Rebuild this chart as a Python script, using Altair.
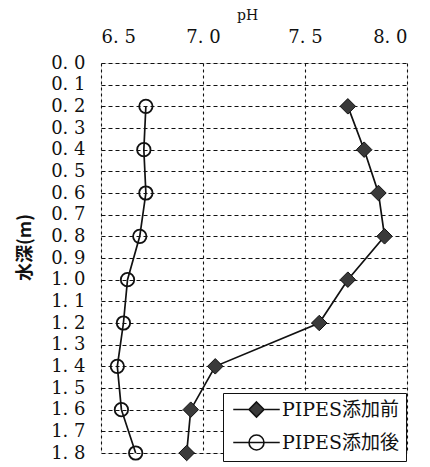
import altair as alt
import pandas as pd

depth = [0.2, 0.4, 0.6, 0.8, 1.0, 1.2, 1.4, 1.6, 1.8]
ph_before = [7.71, 7.79, 7.86, 7.89, 7.71, 7.57, 7.06, 6.94, 6.92]
ph_after = [6.72, 6.71, 6.72, 6.69, 6.63, 6.61, 6.58, 6.60, 6.67]
series_names = ["PIPES添加前", "PIPES添加後"]
x_ticks = [6.5, 7.0, 7.5, 8.0]
y_ticks = [round(i * 0.1, 1) for i in range(19)]

rows = []
for d, b, a in zip(depth, ph_before, ph_after):
    rows.append({"depth": d, "pH": b, "series": series_names[0]})
    rows.append({"depth": d, "pH": a, "series": series_names[1]})
df = pd.DataFrame(rows)

SERIF = "DejaVu Serif, Noto Sans CJK JP"
CJK = "Noto Sans CJK JP"

x_enc = alt.X(
    "pH:Q",
    scale=alt.Scale(domain=[6.5, 8.0], nice=False, zero=False),
    axis=alt.Axis(
        orient="top", values=x_ticks, title="pH",
        labelExpr="replace(format(datum.value, '.1f'), '.', '. ')",
        labelFont=SERIF, labelFontSize=18, labelColor="#111", labelPadding=17,
        ticks=False, domain=False,
        grid=True, gridColor="#111", gridDash=[3, 3], gridWidth=1.1,
        titleFont=SERIF, titleFontSize=14, titleFontWeight="normal", titleColor="#111",
        titleX=146, titleY=-48, titleBaseline="middle", titleAlign="center",
    ),
)
y_enc = alt.Y(
    "depth:Q",
    scale=alt.Scale(domain=[0, 1.8], reverse=True, nice=False, zero=False),
    axis=alt.Axis(
        values=y_ticks, title="水深(m)",
        labelExpr="replace(format(datum.value, '.1f'), '.', '. ')",
        labelFont=SERIF, labelFontSize=18, labelColor="#111", labelPadding=16,
        ticks=False, domain=False,
        grid=True, gridColor="#111", gridDash=[4, 3], gridWidth=1.1,
        titleFont=CJK, titleFontSize=18, titleFontWeight="bold", titleColor="#111",
        titleX=-76, titleY=184, titleAngle=270, titleBaseline="middle", titleAlign="center",
    ),
)

base = alt.Chart(df)

lines = base.mark_line(color="#111", strokeWidth=1.7).encode(
    x=x_enc, y=y_enc, detail="series:N", order="depth:Q"
)

diamonds = base.transform_filter(alt.datum.series == series_names[0]).mark_point(
    shape="diamond", filled=True, fill="#3a3a3a", stroke="#111", strokeWidth=1,
    size=240, opacity=1
).encode(x=x_enc, y=y_enc)

circles = base.transform_filter(alt.datum.series == series_names[1]).mark_point(
    shape="circle", filled=False, stroke="#111", strokeWidth=1.8, size=180, opacity=1
).encode(x=x_enc, y=y_enc)

path_before = "M-3.1,0L-1,0M1,0L3.1,0M0,-1L1,0L0,1L-1,0Z"
path_after = "M-3.1,0L3.1,0M1,0A1,1 0 1,1 -1,0A1,1 0 1,1 1,0Z"

legend_cfg = dict(
    title=None, orient="none", legendX=122, legendY=330,
    fillColor="white", strokeColor="#111", padding=7, rowPadding=10,
    symbolSize=225, symbolStrokeColor="#111", symbolStrokeWidth=1.6,
    symbolOffset=17, labelOffset=16,
    labelFont=SERIF, labelFontSize=19, labelColor="#111",
)

legend_layer = base.transform_filter("false").mark_point(
    filled=True, strokeWidth=1.6, size=225, opacity=1
).encode(
    shape=alt.Shape("series:N", scale=alt.Scale(domain=series_names, range=[path_before, path_after]),
                    legend=alt.Legend(**legend_cfg)),
    fill=alt.Fill("series:N", scale=alt.Scale(domain=series_names, range=["#3a3a3a", "white"]),
                  legend=alt.Legend(**legend_cfg)),
    stroke=alt.Stroke("series:N", scale=alt.Scale(domain=series_names, range=["#111", "#111"]),
                      legend=alt.Legend(**legend_cfg)),
)

chart = alt.layer(lines, diamonds, circles, legend_layer).properties(
    width=306, height=390,
    autosize=alt.AutoSizeParams(type="none"),
    padding={"left": 93, "top": 55, "right": 15, "bottom": 14},
).configure_view(stroke="#111", strokeWidth=2).configure(background="white")

chart.save("out.html", embed_options={"renderer": "svg", "actions": False})
